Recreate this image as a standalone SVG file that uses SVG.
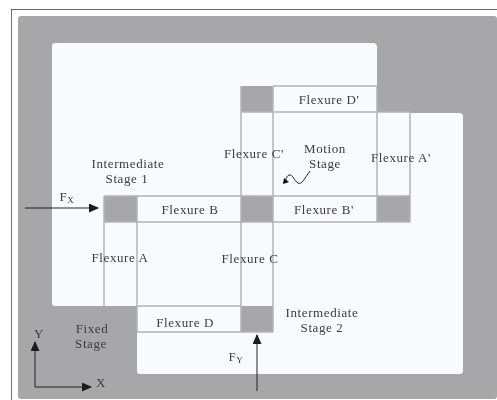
<svg xmlns="http://www.w3.org/2000/svg" width="497" height="400" viewBox="0 0 497 400">
<defs>
<marker id="ah" markerWidth="10" markerHeight="9" refX="9" refY="4.5" orient="auto" markerUnits="userSpaceOnUse"><path d="M0,0 L10,4.5 L0,9 Z" fill="#1a1a1a"/></marker>
<filter id="s" x="0" y="0" width="100%" height="100%"><feGaussianBlur stdDeviation="0.45"/></filter>
</defs>
<style>
.t{font-family:"Liberation Serif",serif;font-size:13px;letter-spacing:.6px;fill:#3a3a44;text-anchor:middle}
.w{fill:#f9fafe}
.g{fill:#a7a6a8}
.l{stroke:#b4b4b6;stroke-width:1.5;fill:none}
.c{stroke:#222;stroke-width:1;fill:none}
</style>
<rect width="497" height="400" fill="#ffffff"/>
<g filter="url(#s)">
<g id="frame"><path d="M11 9H497M11 9V400" fill="none" stroke="#333" stroke-width="1.4"/></g>
<g id="fixed-stage"><rect x="18" y="16" width="479" height="383" rx="3" class="g"/><text class="t" x="92" y="333">Fixed</text><text class="t" x="91" y="348">Stage</text></g>
<g id="intermediate-stage-1"><path class="w" d="M55 43H373Q377 43 377 47V306H55Q52 306 52 303V46Q52 43 55 43Z"/><text class="t" x="128" y="168">Intermediate</text><text class="t" x="127" y="183">Stage 1</text></g>
<g id="intermediate-stage-2"><path class="w" d="M137 332H273V113H459Q463 113 463 117V371Q463 374 459 374H140Q137 374 137 371Z"/><text class="t" x="322" y="317">Intermediate</text><text class="t" x="322" y="332">Stage 2</text></g>
<g id="gray-blocks">
<path class="g" d="M104 196H137V222H104Z"/>
<path class="g" d="M241 88Q241 86 243 86H273V112H241Z"/>
<rect class="g" x="241" y="196" width="32" height="26"/>
<path class="g" d="M241 306H273V330Q273 332 271 332H241Z"/>
<path class="g" d="M377 196H410V220Q410 222 408 222H377Z"/>
</g>
<g id="flexure-a"><rect class="w" x="105" y="222" width="32" height="84"/></g>
<g id="flexure-a-prime"><rect class="w" x="378" y="112" width="32" height="84"/></g>
<g id="flexure-b"><rect class="w" x="137" y="196" width="104" height="26"/></g>
<g id="flexure-b-prime"><rect class="w" x="273" y="196" width="104" height="26"/></g>
<g id="flexure-c"><rect class="w" x="241" y="222" width="32" height="84"/></g>
<g id="flexure-c-prime"><rect class="w" x="241" y="112" width="32" height="84"/></g>
<g id="flexure-d"><rect class="w" x="137" y="306" width="104" height="26"/></g>
<g id="flexure-d-prime"><rect class="w" x="273" y="86" width="104" height="26"/></g>
<g id="lines">
<path class="l" d="M104 196H241M104 196V306M137 196V332M105 222H241M137 306H241M137 332H273M241 86V332M273 86H377M273 86V332M241 112H410M273 196H410M273 222H410M377 86V222M410 112V222M241 196H273M241 222H273"/>
</g>
<g id="motion-stage"><text class="t" x="325" y="153">Motion</text><text class="t" x="325" y="168">Stage</text>
<path d="M310 171C304 179 302 185 298 183C294 181 293 174 289 175C286 176 287 180 283 183" fill="none" stroke="#222"/><path d="M283 184L284 178L289 182Z" fill="#111"/></g>
<g id="labels">
<text class="t" x="120" y="262">Flexure A</text>
<text class="t" x="401" y="162">Flexure A'</text>
<text class="t" x="190" y="214">Flexure B</text>
<text class="t" x="324" y="214">Flexure B'</text>
<text class="t" x="250" y="263">Flexure C</text>
<text class="t" x="254" y="158">Flexure C'</text>
<text class="t" x="185" y="327">Flexure D</text>
<text class="t" x="329" y="104">Flexure D'</text>
<text class="t" x="67" y="201">F<tspan font-size="9" dy="2">X</tspan></text>
<text class="t" x="236" y="361">F<tspan font-size="9" dy="2">Y</tspan></text>
<text class="t" x="39" y="338">Y</text>
<text class="t" x="101" y="387">X</text>
</g>
<g id="connectors">
<path class="c" d="M25 208H98" marker-end="url(#ah)"/>
<path class="c" d="M257 391V335" marker-end="url(#ah)"/>
<path class="c" d="M35 387V342" marker-end="url(#ah)"/>
<path class="c" d="M35 387H91" marker-end="url(#ah)"/>
</g>
</g>
</svg>
